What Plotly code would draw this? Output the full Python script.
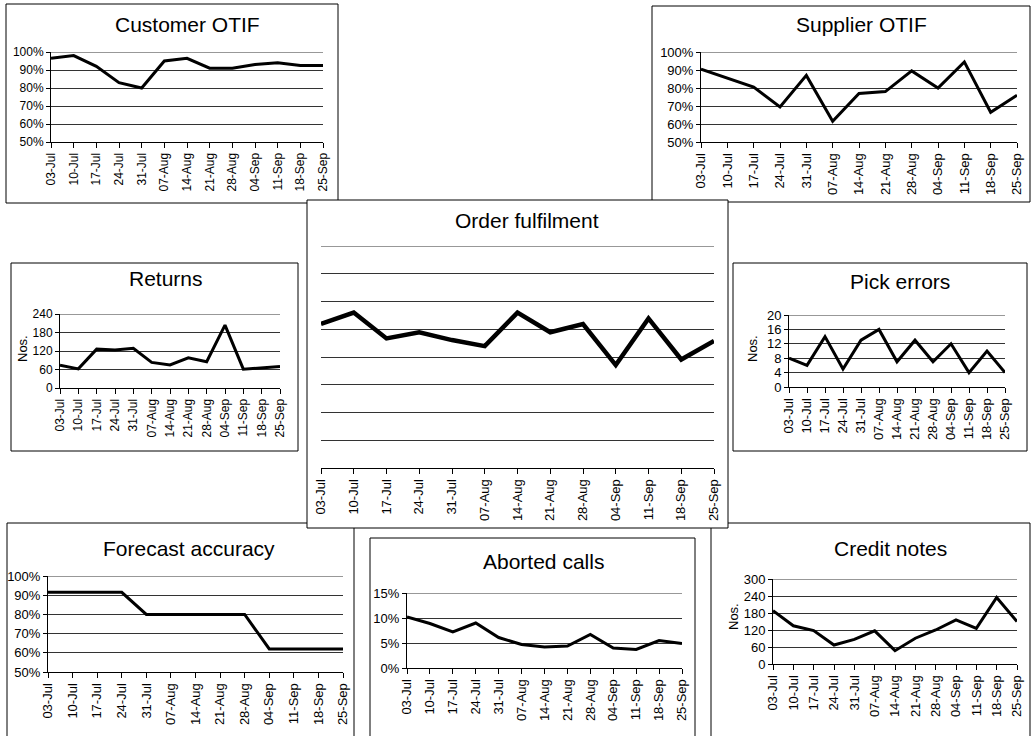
import plotly.graph_objects as go

# Weekly KPI dashboard data
weeks = ["03-Jul", "10-Jul", "17-Jul", "24-Jul", "31-Jul", "07-Aug", "14-Aug",
         "21-Aug", "28-Aug", "04-Sep", "11-Sep", "18-Sep", "25-Sep"]

customer_otif = [96.5, 98, 92, 83, 80, 95, 96.5, 91, 91, 93, 94, 92.5, 92.5]
supplier_otif = [90.5, 85.5, 80.5, 69.5, 87, 61.5, 77, 78, 89.5, 80, 94.5, 66.5, 76]
order_fulfilment = [51.9, 56, 46.7, 48.9, 46.1, 43.9, 56, 48.9, 51.9, 37.1, 53.9, 39.1, 45.8]
returns = [74, 62, 126, 123, 129, 83, 75, 98, 85, 204, 61, 65, 70]
pick_errors = [8, 6, 14, 5, 13, 16, 7, 13, 7, 12, 4, 10, 4]
forecast_accuracy = [91.5, 91.5, 91.5, 91.5, 80, 80, 80, 80, 80, 62, 62, 62, 62]
aborted_calls = [10.2, 8.9, 7.2, 9.0, 6.1, 4.7, 4.2, 4.4, 6.7, 4.0, 3.7, 5.5, 4.9]
credit_notes = [188, 135, 118, 67, 87, 117, 47, 91, 120, 156, 126, 235, 150]

W, H = 1032, 736
FONT = "Liberation Sans, Arial, Helvetica, sans-serif"
GRID = "#333333"


def fx(x):
    return x / W


def fy(y):
    return 1 - y / H


# Each panel: title, values, plot area (x0, x1, ytop, ybot) in px, y range, tick step,
# tick suffix, frame box (x0, y0, x1, y1), title centre, "Nos." label position, font size, line width
panels = [
    dict(title="Customer OTIF", values=customer_otif, area=(51, 323, 52, 142),
         yr=(50, 100), dtick=10, suffix="%", box=(6, 4, 338, 203), tpos=(187, 25),
         nos=None, fs=12, lw=3, yaxis=True),
    dict(title="Supplier OTIF", values=supplier_otif, area=(701, 1017, 52, 142),
         yr=(50, 100), dtick=10, suffix="%", box=(652, 6, 1030, 202), tpos=(861, 25),
         nos=None, fs=13, lw=3, yaxis=True),
    dict(title="Returns", values=returns, area=(60, 280, 314, 388),
         yr=(0, 240), dtick=60, suffix="", box=(11, 263, 298, 451), tpos=(166, 278),
         nos=(22, 349), fs=12, lw=3, yaxis=True),
    dict(title="Pick errors", values=pick_errors, area=(789, 1005, 315, 387),
         yr=(0, 20), dtick=4, suffix="", box=(733, 263, 1027, 451), tpos=(900, 281),
         nos=(752, 349), fs=13, lw=3, yaxis=True),
    dict(title="Forecast accuracy", values=forecast_accuracy, area=(48, 343, 576, 672),
         yr=(50, 100), dtick=10, suffix="%", box=(7, 523, 354, 760), tpos=(189, 548),
         nos=None, fs=13, lw=3, yaxis=True),
    dict(title="Aborted calls", values=aborted_calls, area=(407, 682, 593, 668),
         yr=(0, 15), dtick=5, suffix="%", box=(370, 538, 695, 760), tpos=(543, 561),
         nos=None, fs=13, lw=3, yaxis=True),
    dict(title="Credit notes", values=credit_notes, area=(773, 1017, 579, 664),
         yr=(0, 300), dtick=60, suffix="", box=(711, 523, 1030, 760), tpos=(890, 548),
         nos=(733, 617), fs=13, lw=3, yaxis=True),
    dict(title="Order fulfilment", values=order_fulfilment, area=(321, 714, 246, 468),
         yr=(0, 80), dtick=10, suffix="", box=(307, 200, 728, 528), tpos=(527, 220),
         nos=None, fs=13, lw=4.5, yaxis=False),
]

fig = go.Figure()
layout = dict(
    width=W, height=H, autosize=False, margin=dict(l=0, r=0, t=0, b=0, pad=0),
    paper_bgcolor="white", plot_bgcolor="rgba(0,0,0,0)",
    showlegend=False, font=dict(family=FONT, color="black"),
)
frames = []
toplines = []
annotations = []

for i, p in enumerate(panels, start=1):
    xs = "" if i == 1 else str(i)
    x0, x1, yt, yb = p["area"]
    fig.add_trace(go.Scatter(
        x=weeks, y=p["values"], mode="lines",
        line=dict(color="black", width=p["lw"]),
        xaxis="x" + xs, yaxis="y" + xs, hoverinfo="skip",
    ))
    layout["xaxis" + xs] = dict(
        domain=[fx(x0), fx(x1)], anchor="y" + xs, type="category", automargin=False,
        range=[0, len(weeks) - 1], showgrid=False, zeroline=False,
        showline=True, linecolor="black", linewidth=1,
        ticks="outside", ticklen=5, tickcolor="black", tickwidth=1,
        tickangle=-90, tickfont=dict(size=p["fs"], family=FONT, color="black"),
    )
    layout["yaxis" + xs] = dict(
        domain=[fy(yb), fy(yt)], anchor="x" + xs, automargin=False,
        range=list(p["yr"]), dtick=p["dtick"], tick0=0,
        showgrid=True, gridcolor=GRID, gridwidth=1, zeroline=False,
        showline=p["yaxis"], linecolor="black", linewidth=1,
        ticks="outside" if p["yaxis"] else "", ticklen=4, tickcolor="black",
        showticklabels=p["yaxis"], ticksuffix=p["suffix"],
        tickfont=dict(size=p["fs"], family=FONT, color="black"),
    )
    # gridline at the top of the value range (plotly skips grid lines on the plot edge)
    toplines.append(dict(
        type="line", xref="x" + xs + " domain", yref="y" + xs, layer="below",
        x0=0, x1=1, y0=p["yr"][1], y1=p["yr"][1],
        line=dict(color=GRID, width=1),
    ))
    bx0, by0, bx1, by1 = p["box"]
    frames.append(dict(
        type="rect", xref="paper", yref="paper", layer="below",
        x0=fx(bx0), x1=fx(bx1), y0=fy(by1), y1=fy(by0),
        line=dict(color="black", width=1), fillcolor="white",
    ))
    tx, ty = p["tpos"]
    annotations.append(dict(
        text=p["title"], x=fx(tx), y=fy(ty), xref="paper", yref="paper",
        xanchor="center", yanchor="middle", showarrow=False,
        font=dict(size=21, family=FONT, color="black"),
    ))
    if p["nos"]:
        nx, ny = p["nos"]
        annotations.append(dict(
            text="Nos.", x=fx(nx), y=fy(ny), xref="paper", yref="paper",
            xanchor="center", yanchor="middle", showarrow=False, textangle=-90,
            font=dict(size=13, family=FONT, color="black"),
        ))

layout["shapes"] = frames + toplines
layout["annotations"] = annotations
fig.update_layout(**layout)
fig.write_html("out.html")
